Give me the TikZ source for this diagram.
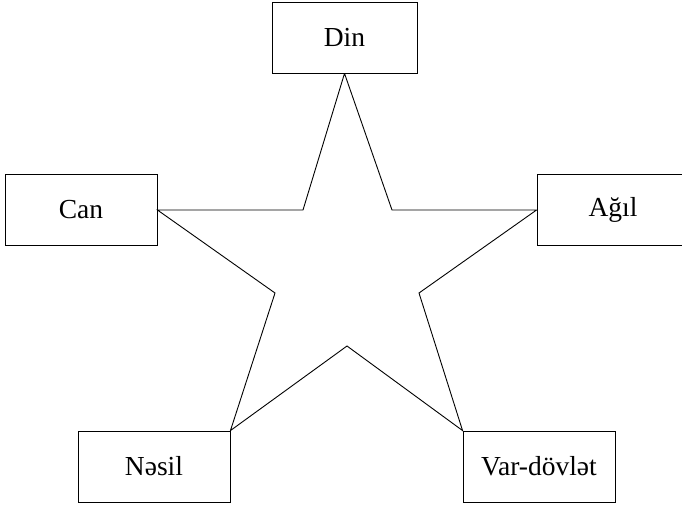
\documentclass[tikz,border=0pt]{standalone}
\usepackage{fontspec}
\setmainfont{Liberation Serif}
\begin{document}
\begin{tikzpicture}[x=1pt,y=-1pt,
  box/.style={draw, line width=0.9pt, minimum width=152pt, minimum height=71pt, inner sep=0pt, font=\fontsize{27.5}{30}\selectfont},
  starline/.style={line width=0.9pt, line join=miter}]
\useasboundingbox (0,0) rectangle (682,507);
\node[box, minimum width=145pt] (din) at (344.5,37.5) {Din};
\node[box] (can) at (81,210) {Can};
\node[box] (agil) at (613,210) {Ağıl};
\node[box] (nesil) at (154,466.5) {Nəsil};
\node[box] (var) at (539,466.5) {Var-dövlət};
\coordinate (ur) at (392,210);
\coordinate (r) at (419,293);
\coordinate (b) at (347,346);
\coordinate (l) at (275,293);
\coordinate (ul) at (303,210);
\draw[starline] (din.south) -- (ur) -- (agil.west) -- (r) -- (var.north west) -- (b) -- (nesil.north east) -- (l) -- (can.east) -- (ul) -- (din.south);
\end{tikzpicture}
\end{document}
